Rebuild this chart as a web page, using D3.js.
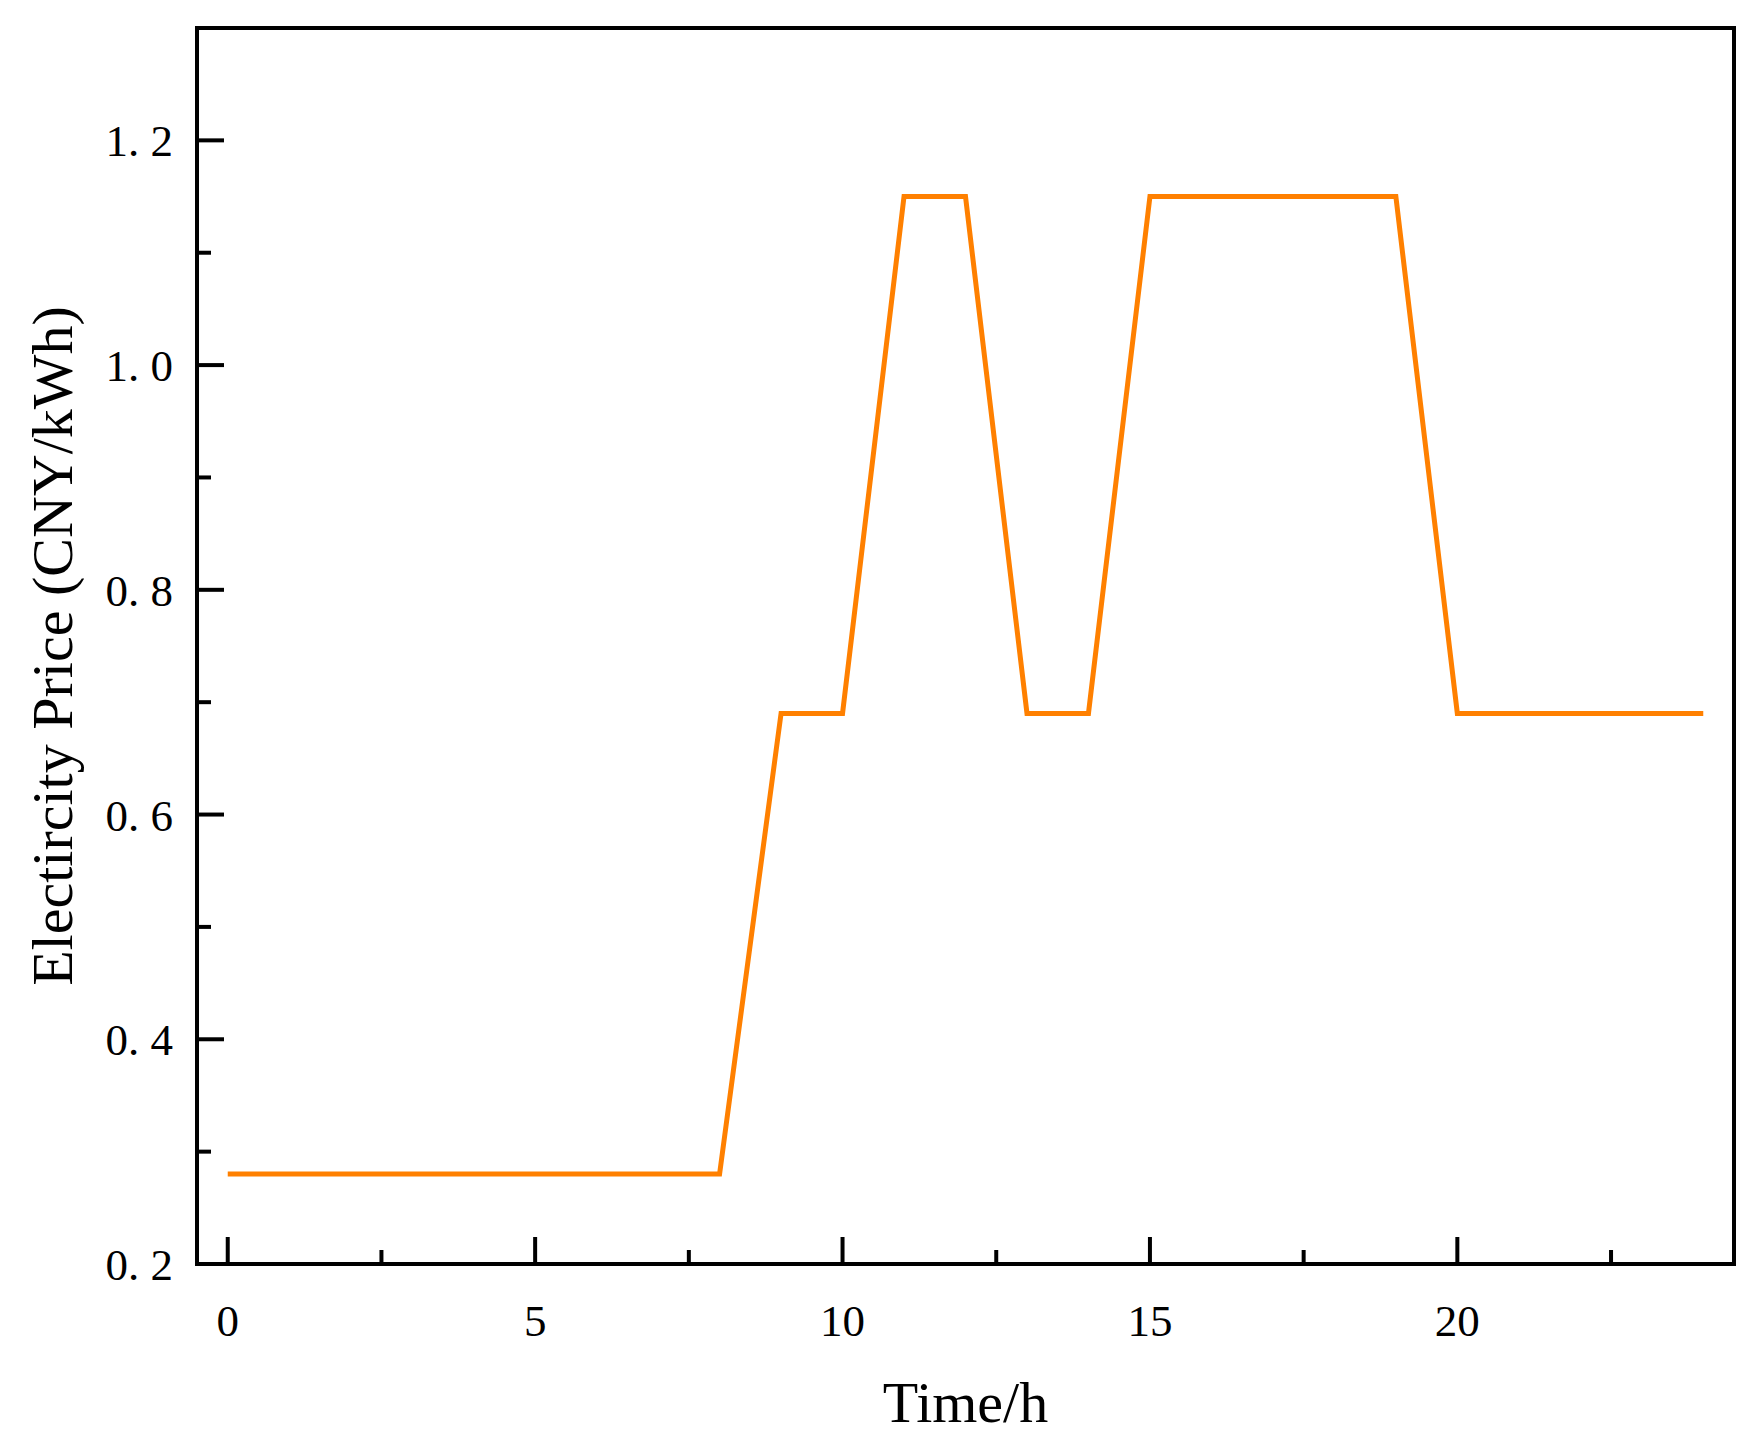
<!DOCTYPE html><html><head><meta charset="utf-8"><script src="https://d3js.org/d3.v7.min.js"></script>
<style>body{margin:0;background:#fff}text{font-family:"Liberation Serif","DejaVu Serif",serif}</style></head><body>
<script>
const hours=[0,1,2,3,4,5,6,7,8,9,10,11,12,13,14,15,16,17,18,19,20,21,22,23,24];
const price=[0.28,0.28,0.28,0.28,0.28,0.28,0.28,0.28,0.28,0.69,0.69,1.15,1.15,0.69,0.69,1.15,1.15,1.15,1.15,1.15,0.69,0.69,0.69,0.69,0.69];
const xMajor=[0,5,10,15,20], xMinor=[2.5,7.5,12.5,17.5,22.5];
const yMajor=[0.2,0.4,0.6,0.8,1.0,1.2], yMinor=[0.3,0.5,0.7,0.9,1.1];
const yLabels=["0. 2","0. 4","0. 6","0. 8","1. 0","1. 2"];
const W=1749,H=1435,L=197,R=1734,T=28,B=1264;
const svg=d3.select("body").append("svg").attr("width",W).attr("height",H);
const x=d3.scaleLinear().domain([-0.5,24.5]).range([L,R]);
const y=d3.scaleLinear().domain([0.2,1.3]).range([B,T]);
const g=svg.append("g");
svg.append("rect").attr("x",L).attr("y",T).attr("width",R-L).attr("height",B-T).attr("fill","none").attr("stroke","#000").attr("stroke-width",4);
const tk=(vals,len,isX)=>g.selectAll(null).data(vals).enter().append("line")
 .attr("x1",d=>isX?x(d):L).attr("x2",d=>isX?x(d):L+len)
 .attr("y1",d=>isX?B:y(d)).attr("y2",d=>isX?B-len:y(d)).attr("stroke","#000").attr("stroke-width",4);
tk(xMajor,27,true);tk(xMinor,14,true);tk(yMajor,27,false);tk(yMinor,14,false);
svg.selectAll(null).data(xMajor).enter().append("text").attr("x",d=>x(d)).attr("y",B+72).attr("text-anchor","middle").attr("font-size",45).text(d=>d);
svg.selectAll(null).data(yMajor).enter().append("text").attr("x",L-24).attr("y",d=>y(d)+16).attr("text-anchor","end").attr("font-size",45).text((d,i)=>yLabels[i]);
svg.append("path").datum(hours.map((h,i)=>[h,price[i]])).attr("fill","none").attr("stroke","#FF8000").attr("stroke-width",5)
 .attr("d",d3.line().x(d=>x(d[0])).y(d=>y(d[1])));
svg.append("text").attr("x",(L+R)/2).attr("y",1422).attr("text-anchor","middle").attr("font-size",58).text("Time/h");
svg.append("text").attr("transform",`translate(72,${(T+B)/2}) rotate(-90)`).attr("text-anchor","middle").attr("font-size",58).text("Electircity Price (CNY/kWh)");
</script></body></html>
